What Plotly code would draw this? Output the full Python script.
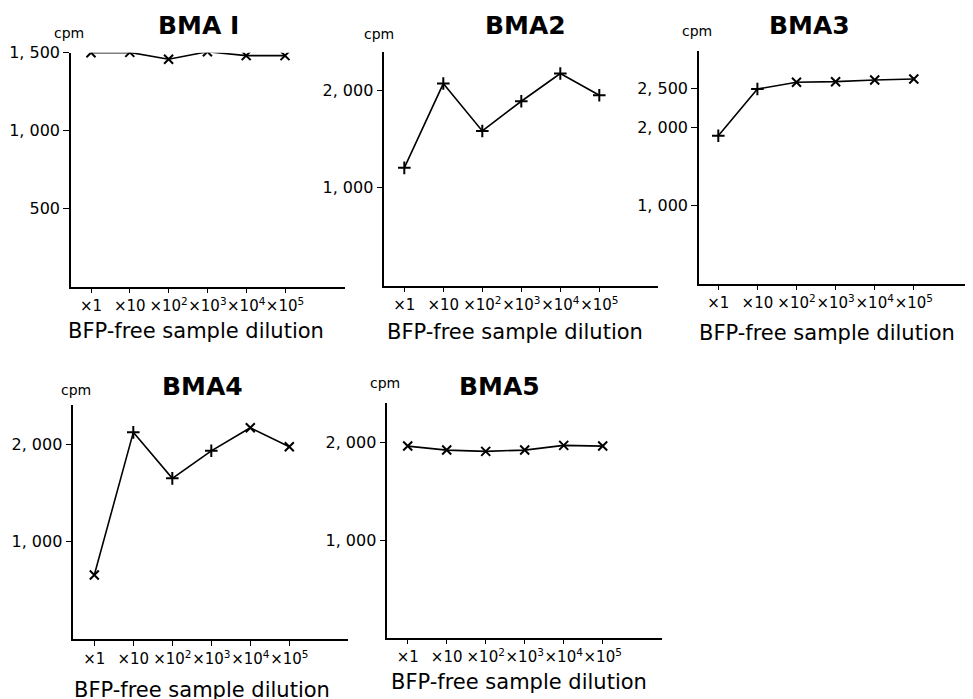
import plotly.graph_objects as go

W, H = 973, 699
OFF = 8  # page body margin offset of the plot div

dilutions = ["×1", "×10", "×10<sup>2</sup>", "×10<sup>3</sup>", "×10<sup>4</sup>", "×10<sup>5</sup>"]
titles = ["BMA I", "BMA2", "BMA3", "BMA4", "BMA5"]

bma1 = [1500, 1502, 1458, 1506, 1481, 1481]
bma2 = [1204, 2067, 1582, 1886, 2170, 1948]
bma3 = [1897, 2496, 2582, 2590, 2612, 2624]
bma4 = [659, 2120, 1649, 1931, 2167, 1972]
bma5 = [1962, 1921, 1908, 1921, 1969, 1962]
series = [bma1, bma2, bma3, bma4, bma5]

symbols = [
    ["x-thin"] * 6,
    ["cross-thin"] * 6,
    ["cross-thin", "cross-thin", "x-thin", "x-thin", "x-thin", "x-thin"],
    ["x-thin", "cross-thin", "cross-thin", "cross-thin", "x-thin", "x-thin"],
    ["x-thin"] * 6,
]

y_tickvals = [[500, 1000, 1500], [1000, 2000], [1000, 2000, 2500], [1000, 2000], [1000, 2000]]
y_ticktext = [["500", "1, 000", "1, 500"], ["1, 000", "2, 000"], ["1, 000", "2, 000", "2, 500"],
              ["1, 000", "2, 000"], ["1, 000", "2, 000"]]
y_max = [1500, 2390, 2987, 2400, 2400]

# panel geometry in page pixels: (axis left, axis right, first tick x, tick spacing, axis top, axis bottom)
geom = [
    (71, 345, 91, 38.8, 52.7, 286.5),
    (384.3, 658, 404.3, 39.0, 52, 285.5),
    (699, 972, 718.3, 39.1, 50.7, 283.7),
    (73.3, 348, 94.3, 39.0, 405, 639.4),
    (387.3, 662, 407.7, 39.0, 403.3, 637.7),
]
title_pos = [(198, 26), (525, 25), (809, 25), (202, 386), (499, 386)]
cpm_pos = [(69, 33), (379, 34), (697, 31), (76, 390), (385, 383)]
xlab_pos = [(196, 331), (515, 332), (827, 333), (202, 690), (519, 682)]


def px(p):
    return (p - OFF) / W


def py(p):
    return 1 - (p - OFF) / H


FONT = "DejaVu Sans"
fig = go.Figure()
ann = []
for i in range(5):
    xl, xr, x0, dx, yt, yb = geom[i]
    n = str(i + 1) if i else ""
    fig.add_trace(go.Scatter(
        x=list(range(6)), y=series[i], mode="lines+markers",
        xaxis="x" + n, yaxis="y" + n,
        line=dict(color="black", width=1.6),
        marker=dict(symbol=symbols[i], size=9, color="black",
                    line=dict(color="black", width=2)),
        showlegend=False, hoverinfo="skip"))
    rl = (xl - x0) / dx
    rr = (xr - x0) / dx
    fig.layout["xaxis" + n] = dict(
        domain=[px(xl), min(px(xr), 1)], anchor="y" + n, range=[rl, rr],
        tickmode="array", tickvals=list(range(6)), ticktext=dilutions,
        showline=True, linecolor="black", linewidth=1.5, automargin=False, tickangle=0,
        ticks="outside", ticklen=5, tickwidth=1.3, tickcolor="black",
        showgrid=False, zeroline=False,
        tickfont=dict(family=FONT, size=15, color="black"))
    fig.layout["yaxis" + n] = dict(
        domain=[py(yb), py(yt)], anchor="x" + n, range=[0, y_max[i]],
        tickmode="array", tickvals=y_tickvals[i], ticktext=y_ticktext[i],
        showline=True, linecolor="black", linewidth=1.5, automargin=False,
        ticks="outside", ticklen=6, tickwidth=1.3, tickcolor="black",
        showgrid=False, zeroline=False,
        tickfont=dict(family=FONT, size=16, color="black"))
    ann.append(dict(text="<b>" + titles[i] + "</b>", x=px(title_pos[i][0]), y=py(title_pos[i][1]),
                    xref="paper", yref="paper", showarrow=False, xanchor="center", yanchor="middle",
                    font=dict(family=FONT, size=25, color="black")))
    ann.append(dict(text="cpm", x=px(cpm_pos[i][0]), y=py(cpm_pos[i][1]),
                    xref="paper", yref="paper", showarrow=False, xanchor="center", yanchor="middle",
                    font=dict(family=FONT, size=14, color="black")))
    ann.append(dict(text="BFP-free sample dilution", x=px(xlab_pos[i][0]), y=py(xlab_pos[i][1]),
                    xref="paper", yref="paper", showarrow=False, xanchor="center", yanchor="middle",
                    font=dict(family=FONT, size=21, color="black")))

fig.update_layout(width=W, height=H, margin=dict(l=0, r=0, t=0, b=0), template="none",
                  paper_bgcolor="white", plot_bgcolor="white", annotations=ann)
fig.write_html("out.html")
